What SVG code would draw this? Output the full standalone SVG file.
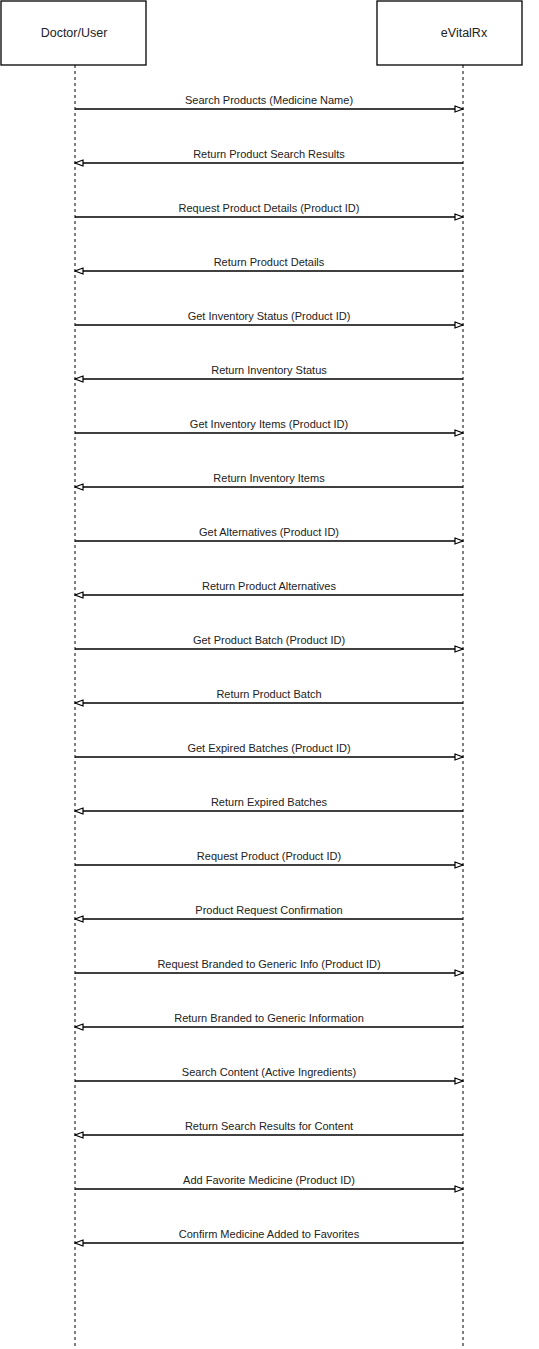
<svg xmlns="http://www.w3.org/2000/svg" width="539" height="1349" viewBox="0 0 539 1349">
<style>
.box{fill:#fff;stroke:#000;stroke-width:1.3}
.nlabel{font-family:"Liberation Sans",Arial,sans-serif;font-size:12.5px;fill:#222;text-anchor:middle}
.life{stroke:#000;stroke-width:1;stroke-dasharray:3 3;fill:none}
.msg{stroke:#000;stroke-width:1.3;fill:none}
.mlabel{font-family:"Liberation Sans",Arial,sans-serif;font-size:11px;fill:#222;text-anchor:middle}
</style>
<defs>
<marker id="ah" markerWidth="10" markerHeight="8" refX="9" refY="4" orient="auto" markerUnits="userSpaceOnUse">
<path d="M1,1 L9,4 L1,7 Z" fill="#fff" stroke="#000" stroke-width="1.2"/>
</marker>
</defs>
<rect width="539" height="1349" fill="#fff"/>
<g id="lifelines">
<line class="life" x1="75" y1="65" x2="75" y2="1346"/>
<line class="life" x1="463" y1="65" x2="463" y2="1346"/>
</g>
<g id="node-doctor">
<rect class="box" x="1" y="1" width="145" height="64"/>
<text class="nlabel" x="74" y="37">Doctor/User</text>
</g>
<g id="node-evitalrx">
<rect class="box" x="377" y="1" width="145" height="64"/>
<text class="nlabel" x="464" y="37">eVitalRx</text>
</g>
<g id="connectors">
<line class="msg" x1="75" y1="109" x2="463" y2="109" marker-end="url(#ah)"/>
<text class="mlabel" x="269" y="104">Search Products (Medicine Name)</text>
<line class="msg" x1="463" y1="163" x2="75" y2="163" marker-end="url(#ah)"/>
<text class="mlabel" x="269" y="158">Return Product Search Results</text>
<line class="msg" x1="75" y1="217" x2="463" y2="217" marker-end="url(#ah)"/>
<text class="mlabel" x="269" y="212">Request Product Details (Product ID)</text>
<line class="msg" x1="463" y1="271" x2="75" y2="271" marker-end="url(#ah)"/>
<text class="mlabel" x="269" y="266">Return Product Details</text>
<line class="msg" x1="75" y1="325" x2="463" y2="325" marker-end="url(#ah)"/>
<text class="mlabel" x="269" y="320">Get Inventory Status (Product ID)</text>
<line class="msg" x1="463" y1="379" x2="75" y2="379" marker-end="url(#ah)"/>
<text class="mlabel" x="269" y="374">Return Inventory Status</text>
<line class="msg" x1="75" y1="433" x2="463" y2="433" marker-end="url(#ah)"/>
<text class="mlabel" x="269" y="428">Get Inventory Items (Product ID)</text>
<line class="msg" x1="463" y1="487" x2="75" y2="487" marker-end="url(#ah)"/>
<text class="mlabel" x="269" y="482">Return Inventory Items</text>
<line class="msg" x1="75" y1="541" x2="463" y2="541" marker-end="url(#ah)"/>
<text class="mlabel" x="269" y="536">Get Alternatives (Product ID)</text>
<line class="msg" x1="463" y1="595" x2="75" y2="595" marker-end="url(#ah)"/>
<text class="mlabel" x="269" y="590">Return Product Alternatives</text>
<line class="msg" x1="75" y1="649" x2="463" y2="649" marker-end="url(#ah)"/>
<text class="mlabel" x="269" y="644">Get Product Batch (Product ID)</text>
<line class="msg" x1="463" y1="703" x2="75" y2="703" marker-end="url(#ah)"/>
<text class="mlabel" x="269" y="698">Return Product Batch</text>
<line class="msg" x1="75" y1="757" x2="463" y2="757" marker-end="url(#ah)"/>
<text class="mlabel" x="269" y="752">Get Expired Batches (Product ID)</text>
<line class="msg" x1="463" y1="811" x2="75" y2="811" marker-end="url(#ah)"/>
<text class="mlabel" x="269" y="806">Return Expired Batches</text>
<line class="msg" x1="75" y1="865" x2="463" y2="865" marker-end="url(#ah)"/>
<text class="mlabel" x="269" y="860">Request Product (Product ID)</text>
<line class="msg" x1="463" y1="919" x2="75" y2="919" marker-end="url(#ah)"/>
<text class="mlabel" x="269" y="914">Product Request Confirmation</text>
<line class="msg" x1="75" y1="973" x2="463" y2="973" marker-end="url(#ah)"/>
<text class="mlabel" x="269" y="968">Request Branded to Generic Info (Product ID)</text>
<line class="msg" x1="463" y1="1027" x2="75" y2="1027" marker-end="url(#ah)"/>
<text class="mlabel" x="269" y="1022">Return Branded to Generic Information</text>
<line class="msg" x1="75" y1="1081" x2="463" y2="1081" marker-end="url(#ah)"/>
<text class="mlabel" x="269" y="1076">Search Content (Active Ingredients)</text>
<line class="msg" x1="463" y1="1135" x2="75" y2="1135" marker-end="url(#ah)"/>
<text class="mlabel" x="269" y="1130">Return Search Results for Content</text>
<line class="msg" x1="75" y1="1189" x2="463" y2="1189" marker-end="url(#ah)"/>
<text class="mlabel" x="269" y="1184">Add Favorite Medicine (Product ID)</text>
<line class="msg" x1="463" y1="1243" x2="75" y2="1243" marker-end="url(#ah)"/>
<text class="mlabel" x="269" y="1238">Confirm Medicine Added to Favorites</text>
</g>
</svg>
